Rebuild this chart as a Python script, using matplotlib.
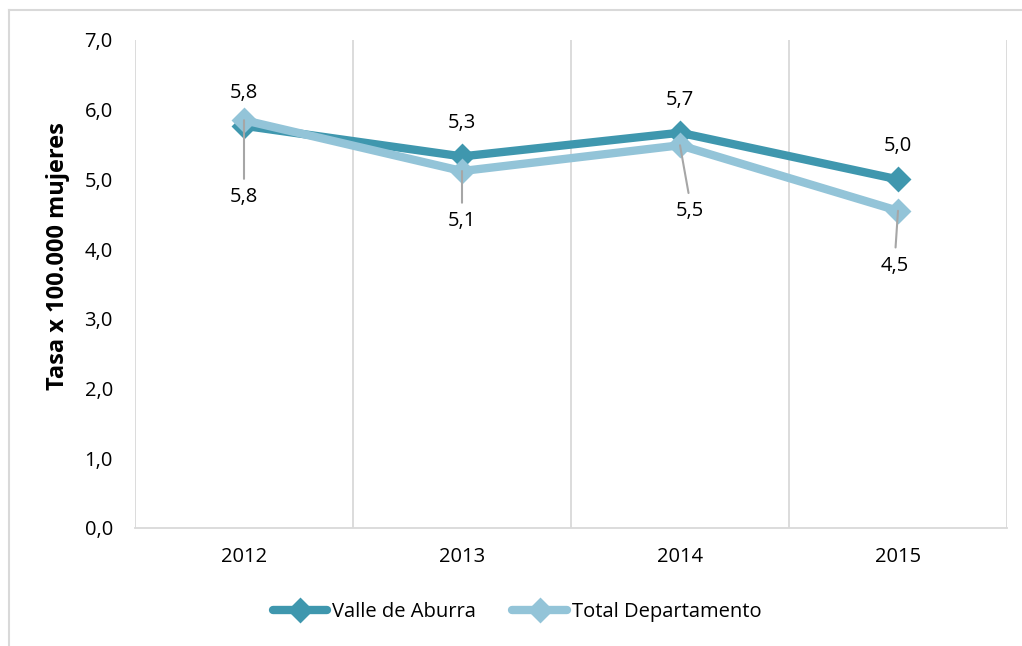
import matplotlib
matplotlib.use("Agg")
import matplotlib.pyplot as plt
from matplotlib.lines import Line2D

years = ["2012", "2013", "2014", "2015"]
valle = [5.77, 5.33, 5.67, 5.00]
total = [5.85, 5.12, 5.49, 4.55]
valle_labels = ["5,8", "5,3", "5,7", "5,0"]
total_labels = ["5,8", "5,1", "5,5", "4,5"]
yticks = [0, 1, 2, 3, 4, 5, 6, 7]
ytick_labels = ["0,0", "1,0", "2,0", "3,0", "4,0", "5,0", "6,0", "7,0"]

plt.rcParams['font.family'] = ['Open Sans', 'DejaVu Sans']

W, H = 1022, 646
fig = plt.figure(figsize=(W / 100, H / 100), dpi=100)
ax = fig.add_axes([135 / W, 1 - 528 / H, (1007 - 135) / W, (528 - 40) / H])

c_valle = "#3F97AE"
c_total = "#93C4D8"
grid_c = "#D9D9D9"
fs = 14.5

x = list(range(len(years)))
for vals, col, name in [(valle, c_valle, "Valle de Aburra"), (total, c_total, "Total Departamento")]:
    ax.plot(x, vals, color=col, lw=6, marker="D", ms=11, mfc=col, mec=col, mew=2,
            solid_joinstyle="round", solid_capstyle="round", label=name, zorder=3)

ax.set_xlim(-0.5, len(years) - 0.5)
ax.set_ylim(0, 7)
ax.set_yticks(yticks)
ax.set_yticklabels(ytick_labels)
ax.set_xticks(x)
ax.set_xticklabels(years)
ax.set_xticks([i - 0.5 for i in range(len(years) + 1)], minor=True)
ax.grid(True, which="minor", axis="x", color=grid_c, lw=1.3)
ax.tick_params(which="both", length=0, labelsize=fs, colors="#000000")
ax.tick_params(axis="y", pad=16)
ax.tick_params(axis="x", pad=14)
for s in ["top", "left", "right"]:
    ax.spines[s].set_visible(False)
ax.spines["bottom"].set_color(grid_c)
ax.spines["bottom"].set_linewidth(1.3)

ax.set_ylabel("Tasa x 100.000 mujeres", fontsize=17, fontweight="bold")
ax.yaxis.set_label_coords(-0.075, 0.557)

# Valle labels above
for xi, v, t in zip(x, valle, valle_labels):
    ax.annotate(t, (xi, v), xytext=(0, 33), textcoords="offset pixels",
                ha="center", va="center", fontsize=fs)

# Total labels below with leader lines
offs = [(0, -77), (0, -50), (10, -66), (-3, -55)]
for xi, v, t, (dx, dy) in zip(x, total, total_labels, offs):
    ax.annotate(t, (xi, v), xytext=(dx, dy), textcoords="offset pixels",
                ha="center", va="center", fontsize=fs,
                arrowprops=dict(arrowstyle="-", color="#A6A6A6", lw=1.5,
                                relpos=(0.5, 1.0), shrinkA=4, shrinkB=0),
                zorder=5)

leg = fig.legend(*ax.get_legend_handles_labels(), loc="center",
                 bbox_to_anchor=(0.506, 1 - 612 / H),
                 ncol=2, frameon=False, fontsize=fs, handlelength=2.7,
                 handletextpad=0.25, columnspacing=1.8, numpoints=1)

# outer chart frame (top and left edges)
fig.add_artist(Line2D([9 / W, 9 / W], [0, 1 - 10 / H], transform=fig.transFigure, color=grid_c, lw=1.5))
fig.add_artist(Line2D([9 / W, 1], [1 - 10 / H, 1 - 10 / H], transform=fig.transFigure, color=grid_c, lw=1.5))

fig.savefig("out.png", dpi=100)
